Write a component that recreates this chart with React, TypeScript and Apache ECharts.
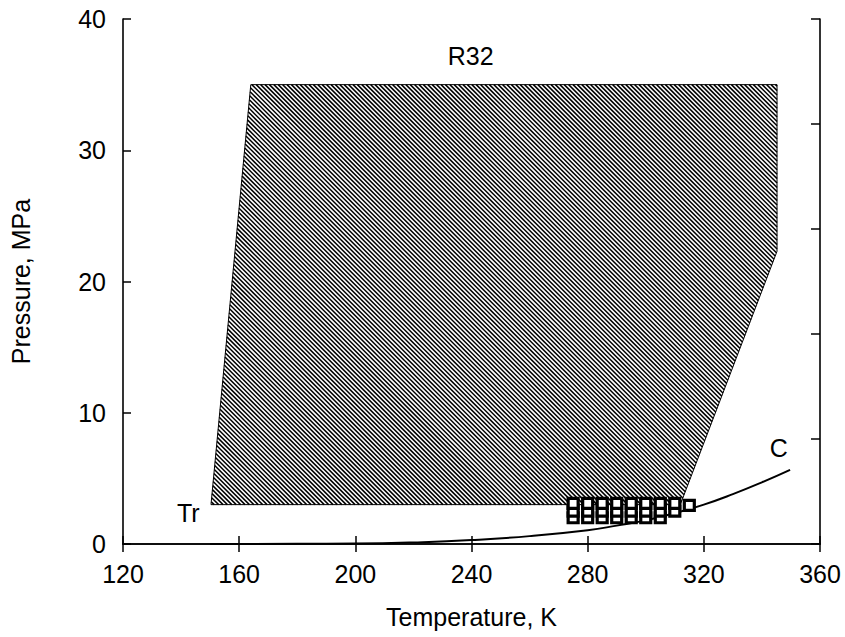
import React, { useEffect, useRef } from "react";
import * as echarts from "echarts";

// Hatched region (experimental range), vertices in (T [K], P [MPa])
const regionT = [150.3, 164.0, 345.2, 345.2, 311.9];
const regionP = [3.0, 35.0, 35.0, 22.3, 3.0];

// Saturation curve up to critical point C
const curveT = [150, 180, 200, 220, 240, 260, 280, 290, 300, 310, 320, 330, 340, 349.7];
const curveP = [0.0, 0.01, 0.03, 0.12, 0.3, 0.6, 1.05, 1.4, 1.8, 2.35, 3.0, 3.8, 4.7, 5.65];

// Measured points
const measT = [275, 275, 275, 280, 280, 280, 285, 285, 285, 290, 290, 290, 295, 295, 295, 300, 300, 300, 305, 305, 305, 310, 310, 315];
const measP = [2.0, 2.5, 3.1, 2.0, 2.5, 3.1, 2.0, 2.5, 3.1, 2.0, 2.5, 3.1, 2.0, 2.5, 3.1, 2.0, 2.5, 3.1, 2.0, 2.5, 3.1, 2.5, 3.1, 2.95];

// Text annotations
const noteText = ["R32", "Tr", "C"];
const noteT = [239.7, 142.5, 345.8];
const noteP = [37.2, 2.4, 7.35];

const xMin = 120, xMax = 360, xStep = 40;
const yMin = 0, yMax = 40, yStep = 10, yStepRight = 8;

const FONT = "'Liberation Sans', Arial, Helvetica, sans-serif";

export default function App() {
  const ref = useRef<HTMLDivElement>(null);
  useEffect(() => {
    if (!ref.current) return;
    const chart = echarts.init(ref.current, null, { renderer: "svg" });
    const HATCH_STEP = 4.4;
    const option: any = {
      animation: false,
      backgroundColor: "#fff",
      textStyle: { fontFamily: FONT, color: "#000" },
      grid: { left: 122, right: 25, top: 19, bottom: 93 },
      xAxis: [
        {
          type: "value", position: "bottom", min: xMin, max: xMax, interval: xStep,
          name: "Temperature, K", nameLocation: "middle", nameGap: 60,
          nameTextStyle: { fontSize: 25, color: "#000", fontFamily: FONT },
          axisLine: { show: true, lineStyle: { color: "#000", width: 1.6 } },
          axisTick: { show: true, inside: true, length: 8, lineStyle: { color: "#000", width: 1.5 } },
          axisLabel: { fontSize: 25, color: "#000", margin: 17, fontFamily: FONT },
          splitLine: { show: false },
        },
        {
          type: "value", position: "top", min: xMin, max: xMax, interval: xStep,
          axisLine: { show: true, lineStyle: { color: "#000", width: 1.6 } },
          axisTick: { show: true, inside: true, length: 8, lineStyle: { color: "#000", width: 1.5 } },
          axisLabel: { show: false },
          splitLine: { show: false },
        },
      ],
      yAxis: [
        {
          type: "value", position: "left", min: yMin, max: yMax, interval: yStep,
          name: "Pressure, MPa", nameLocation: "middle", nameGap: 90,
          nameTextStyle: { fontSize: 25, color: "#000", fontFamily: FONT },
          axisLine: { show: true, lineStyle: { color: "#000", width: 1.6 } },
          axisTick: { show: true, inside: true, length: 8, lineStyle: { color: "#000", width: 1.5 } },
          axisLabel: { fontSize: 25, color: "#000", margin: 17, fontFamily: FONT },
          splitLine: { show: false },
        },
        {
          type: "value", position: "right", min: yMin, max: yMax, interval: yStepRight,
          axisLine: { show: true, lineStyle: { color: "#000", width: 1.6 } },
          axisTick: { show: true, inside: true, length: 9, lineStyle: { color: "#000", width: 1.5 } },
          axisLabel: { show: false },
          splitLine: { show: false },
        },
      ],
      series: [
        {
          type: "custom",
          silent: true,
          z: 1,
          data: [[regionT[0], regionP[0]]],
          encode: { x: 0, y: 1 },
          renderItem: (_params: any, api: any) => {
            const pts = regionT.map((t, i) => api.coord([t, regionP[i]]));
            const n = pts.length;
            const vals = pts.map((p: number[]) => p[0] - p[1]);
            const cmin = Math.min(...vals);
            const cmax = Math.max(...vals);
            const children: any[] = [];
            for (let c = Math.ceil(cmin / HATCH_STEP) * HATCH_STEP; c <= cmax; c += HATCH_STEP) {
              const hits: number[][] = [];
              for (let i = 0; i < n; i++) {
                const a = pts[i];
                const b = pts[(i + 1) % n];
                const fa = a[0] - a[1] - c;
                const fb = b[0] - b[1] - c;
                if ((fa <= 0 && fb > 0) || (fa > 0 && fb <= 0)) {
                  const t = fa / (fa - fb);
                  hits.push([a[0] + t * (b[0] - a[0]), a[1] + t * (b[1] - a[1])]);
                }
              }
              if (hits.length >= 2) {
                children.push({
                  type: "line",
                  shape: { x1: hits[0][0], y1: hits[0][1], x2: hits[1][0], y2: hits[1][1] },
                  style: { stroke: "#000", lineWidth: 1.5 },
                });
              }
            }
            children.push({
              type: "polygon",
              shape: { points: pts },
              style: { fill: "none", stroke: "#000", lineWidth: 1 },
            });
            return { type: "group", children };
          },
        },
        {
          type: "line",
          data: curveT.map((t, i) => [t, curveP[i]]),
          smooth: true,
          showSymbol: false,
          symbol: "none",
          z: 2,
          lineStyle: { color: "#000", width: 2 },
        },
        {
          type: "scatter",
          data: measT.map((t, i) => [t, measP[i]]),
          symbol: "rect",
          symbolSize: 10,
          z: 3,
          itemStyle: { color: "#fff", borderColor: "#000", borderWidth: 3.2, opacity: 1 },
        },
        {
          type: "scatter",
          data: noteT.map((t, i) => ({ value: [t, noteP[i]], name: noteText[i] })),
          symbolSize: 0,
          z: 4,
          itemStyle: { opacity: 1 },
          label: {
            show: true,
            position: "inside",
            formatter: (p: any) => p.name,
            fontSize: 25,
            color: "#000",
            opacity: 1,
            fontFamily: FONT,
          },
        },
      ],
    };
    chart.setOption(option);
    return () => chart.dispose();
  }, []);
  return <div ref={ref} style={{ width: 845, height: 637, position: "absolute", left: 0, top: 0 }} />;
}
